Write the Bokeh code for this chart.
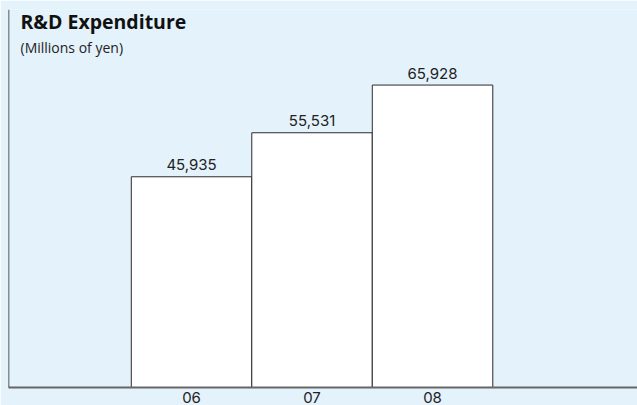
from bokeh.plotting import figure
from bokeh.models import Range1d, FixedTicker, ColumnDataSource, Span, Label
from bokeh.embed import file_html
from bokeh.resources import INLINE
from bokeh.core.properties import value

# Data
categories = ["06", "07", "08"]
values = [45935, 55531, 65928]
value_labels = ["45,935", "55,531", "65,928"]
title_text = "R&D Expenditure"
subtitle_text = "(Millions of yen)"

BG = "#e4f2fc"
FONT = "Open Sans"
NUM_FONT = "Inter"

xs = list(range(len(categories)))
src = ColumnDataSource(dict(x=xs, top=values, label=value_labels))

p = figure(width=637, height=405, output_backend="svg", toolbar_location=None,
           x_range=Range1d(-1.519, 3.701), y_range=Range1d(0, 82400),
           min_border_left=8, min_border_right=0, min_border_top=9, min_border_bottom=0)
p.background_fill_color = BG
p.border_fill_color = BG
p.outline_line_color = None
p.grid.visible = False
p.yaxis.visible = False

p.vbar(x="x", top="top", width=1.0, bottom=0, source=src,
       fill_color="white", line_color="#2b2b2b", line_width=1)

p.text(x="x", y="top", text="label", source=src, text_align="center",
       text_baseline="alphabetic", y_offset=-12, text_font=value(NUM_FONT),
       text_font_size="15px", text_color="#222222")

xa = p.xaxis[0]
xa.ticker = FixedTicker(ticks=xs)
xa.major_label_overrides = {i: c for i, c in zip(xs, categories)}
xa.major_tick_line_color = None
xa.minor_tick_line_color = None
xa.major_tick_out = 0
xa.major_tick_in = 0
xa.major_label_standoff = 4
xa.major_label_text_font = NUM_FONT
xa.major_label_text_font_size = "15px"
xa.major_label_text_color = "#222222"
xa.axis_line_color = "#666666"
xa.axis_line_width = 2

left_line = Span(location=-1.519, dimension="height", line_color="#222222", line_width=1.5)
p.add_layout(left_line)

p.add_layout(Label(x=12, y=366, x_units="screen", y_units="screen", text=title_text,
                   text_font=FONT, text_font_size="19.5px", text_font_style="bold",
                   text_color="#111111", text_baseline="alphabetic"))
p.add_layout(Label(x=12, y=340, x_units="screen", y_units="screen", text=subtitle_text,
                   text_font=FONT, text_font_size="14px",
                   text_color="#222222", text_baseline="alphabetic"))

html = file_html(p, INLINE)
html = html.replace("<body>", '<body style="background-color:%s;">' % BG, 1)
open("out.html", "w").write(html)
